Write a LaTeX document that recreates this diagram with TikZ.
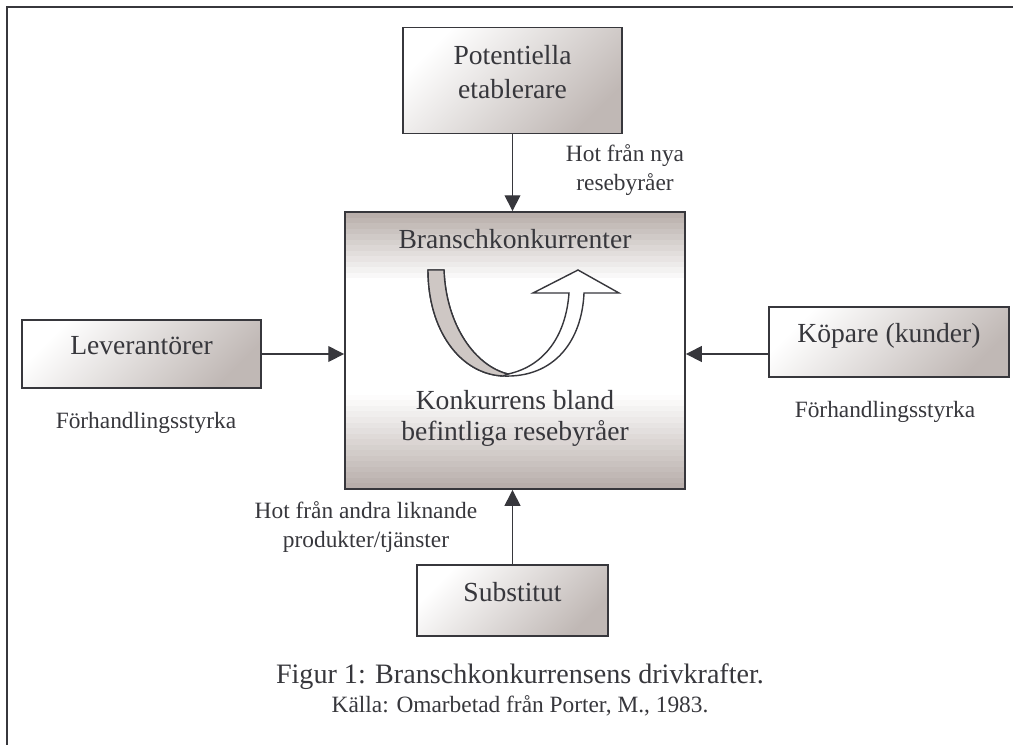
\documentclass[tikz,border=0pt]{standalone}
\usepackage{fontspec}
\setmainfont{Liberation Serif}
\usepackage{tikz}
\usetikzlibrary{arrows.meta}

\definecolor{ink}{RGB}{55,55,60}
\definecolor{boxdark}{RGB}{182,172,168}
\definecolor{boxmid}{RGB}{192,184,181}
\definecolor{band}{RGB}{206,199,196}

\tikzset{
  force/.style={draw=ink, line width=1.1pt, inner sep=0pt, align=center, text=ink,
    top color=white, bottom color=boxmid, shading angle=45, text depth=0.36cm,
    font=\fontsize{15.7}{19.3}\selectfont},
  arena/.style={draw=ink, line width=1.1pt, inner sep=0pt},
  boxtext/.style={align=center, text=ink, font=\fontsize{15.7}{17.6}\selectfont},
  note/.style={align=center, text=ink, font=\fontsize{13.3}{17}\selectfont},
  push/.style={draw=ink, line width=0.8pt, -{Triangle[width=9pt,length=9pt]}}
}

\begin{document}
\begin{tikzpicture}[x=0.02cm, y=-0.02cm]
\useasboundingbox (0,0) rectangle (1013,745);
\draw[ink, line width=1.1pt] (1013,7) -- (7,7) -- (7,745);

\foreach \i in {0,...,49}{
  \pgfmathsetmacro\t{(\i+0.5)/50}
  \pgfmathsetmacro\d{max(0,100*(1-\t/0.25),100*(\t-0.66)/0.34)}
  \pgfmathsetmacro\ya{212+5.54*\i}
  \pgfmathsetmacro\yb{min(489,\ya+5.8)}
  \fill[boxdark!\d!white] (345,\ya) rectangle (685,\yb);
}
\node[arena, minimum width=6.8cm, minimum height=5.54cm] (main) at (515,350.5){};
\node[force, minimum width=4.38cm, minimum height=2.12cm] (pot) at (512.5,80.5){Potentiella\\etablerare};
\node[force, minimum width=4.78cm, minimum height=1.36cm] (lev) at (141.5,354){Leverant\"orer};
\node[force, minimum width=4.8cm, minimum height=1.4cm] (kop) at (889,342){K\"opare (kunder)};
\node[force, minimum width=3.82cm, minimum height=1.42cm] (sub) at (512.5,600.5){Substitut};

\node[boxtext] (bk) at (515,239){Branschkonkurrenter};
\node[boxtext] (kb) at (515,418){Konkurrens bland\\befintliga resebyr\aa er};

\node[note] (nya) at (625,170){Hot fr\aa n nya\\resebyr\aa er};
\node[note] (andra) at (366,527){Hot fr\aa n andra liknande\\produkter/tj\"anster};
\node[note] (fl) at (146,423){F\"orhandlingsstyrka};
\node[note] (fk) at (885,412){F\"orhandlingsstyrka};

\node[text=ink, font=\fontsize{16}{19}\selectfont] (fig) at (520,677){Figur 1: Branschkonkurrensens drivkrafter.};
\node[note] (src) at (520,706){K\"alla: Omarbetad fr\aa n Porter, M., 1983.};

\draw[push] (pot.south) -- (pot.south |- main.north);
\draw[push] (lev.east) -- (lev.east -| main.west);
\draw[push] ([yshift=-0.24cm]kop.west) -- ([yshift=-0.24cm]kop.west -| main.east);
\draw[push] (sub.north) -- (sub.north |- main.south);

\draw[ink, line width=0.8pt, fill=white] (428,270) .. controls (428,330) and (460,374) .. (503,376)
  .. controls (555,378) and (582,340) .. (584,293) -- (619,293) -- (578,270) -- (533,293) -- (569,293)
  .. controls (566,335) and (545,366) .. (508,374) .. controls (475,366) and (446,325) .. (444,270) -- cycle;
\draw[ink, line width=0.8pt, fill=band] (428,270) .. controls (428,330) and (460,374) .. (503,376)
  -- (508,374) .. controls (475,366) and (446,325) .. (444,270) -- cycle;
\end{tikzpicture}
\end{document}
